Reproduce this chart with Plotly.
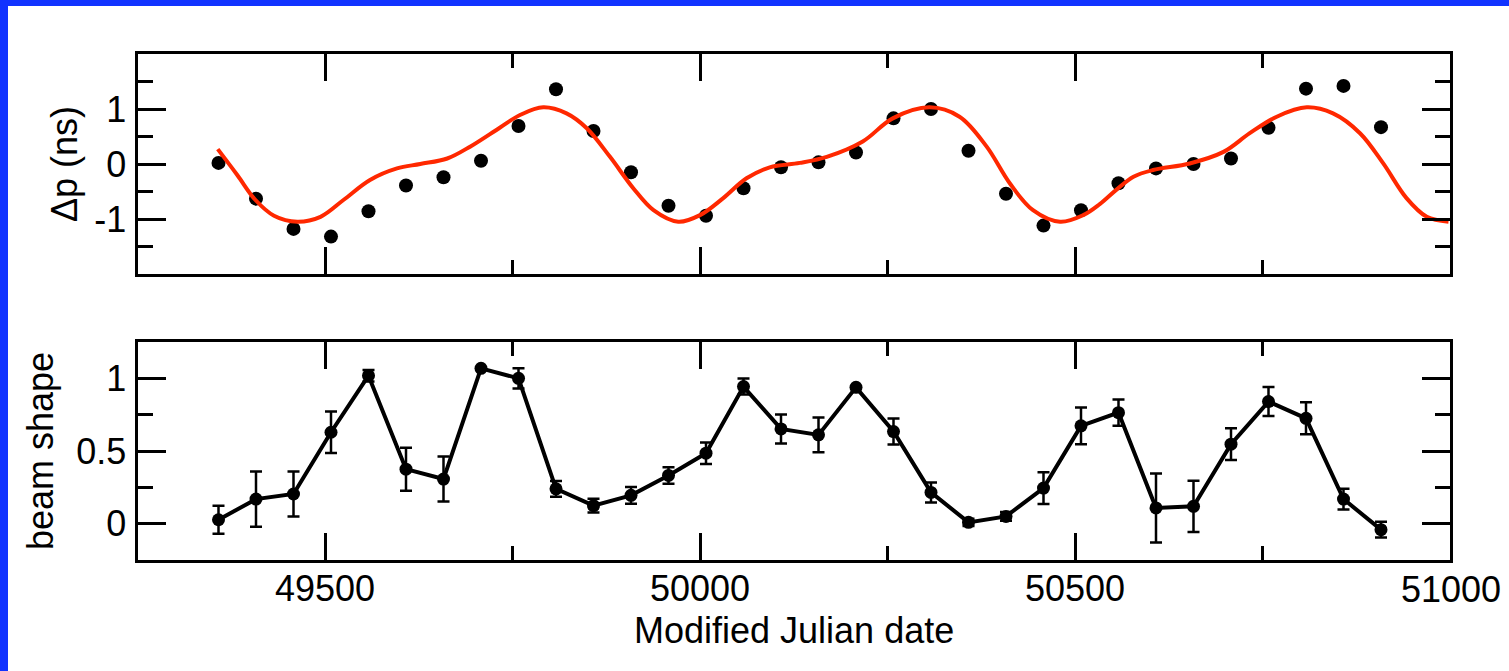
import plotly.graph_objects as go

# ---------------- data ----------------
mjd = [49358, 49408, 49458, 49508, 49558, 49608, 49658, 49708, 49758, 49808,
       49858, 49908, 49958, 50008, 50058, 50108, 50158, 50208, 50258, 50308,
       50358, 50408, 50458, 50508, 50558, 50608, 50658, 50708, 50758, 50808,
       50858, 50908]

delta_p = [0.02, -0.63, -1.18, -1.32, -0.86, -0.39, -0.24, 0.06, 0.69, 1.36,
           0.60, -0.15, -0.76, -0.94, -0.44, -0.06, 0.03, 0.21, 0.83, 1.00,
           0.24, -0.54, -1.12, -0.84, -0.35, -0.08, 0.00, 0.10, 0.66, 1.37,
           1.42, 0.67]

model_mjd = [49357, 49383, 49407, 49432, 49463, 49494, 49525, 49560, 49596, 49627,
             49663, 49694, 49733, 49760, 49791, 49822, 49849, 49880, 49911, 49938,
             49971, 50000, 50031, 50062, 50093, 50133, 50169, 50217, 50257, 50306,
             50346, 50382, 50413, 50444, 50480, 50511, 50533, 50555, 50578, 50604,
             50653, 50698, 50733, 50769, 50809, 50844, 50880, 50911, 50942, 50969,
             50998]
model_dp = [0.27, -0.20, -0.65, -0.94, -1.05, -0.96, -0.65, -0.29, -0.08, 0.00,
            0.10, 0.32, 0.66, 0.89, 1.03, 0.92, 0.65, 0.13, -0.44, -0.84,
            -1.05, -0.93, -0.62, -0.26, -0.06, 0.02, 0.13, 0.41, 0.83, 1.03,
            0.86, 0.32, -0.35, -0.84, -1.05, -0.93, -0.73, -0.47, -0.23, -0.11,
            0.01, 0.22, 0.56, 0.86, 1.03, 0.92, 0.56, 0.01, -0.62, -0.96,
            -1.05]

beam = [0.027, 0.169, 0.204, 0.629, 1.018, 0.375, 0.307, 1.069, 1.000, 0.240,
        0.124, 0.195, 0.332, 0.485, 0.943, 0.652, 0.611, 0.938, 0.634, 0.215,
        0.009, 0.050, 0.245, 0.673, 0.764, 0.108, 0.119, 0.547, 0.840, 0.725,
        0.169, -0.041]
beam_err = [0.096, 0.19, 0.155, 0.143, 0.04, 0.148, 0.155, 0.0, 0.07, 0.054,
            0.047, 0.058, 0.057, 0.074, 0.055, 0.10, 0.12, 0.0, 0.09, 0.069,
            0.025, 0.03, 0.109, 0.127, 0.09, 0.238, 0.177, 0.109, 0.10, 0.11,
            0.072, 0.055]

x_ticks = [49500, 50000, 50500]
x_ticktext = ["49500", "50000", "50500"]
x_last_label = "51000"
x_tick_all = [49500, 50000, 50500, 51000]
x_minor = [49750, 50250, 50750]
top_ticks = [-1, 0, 1]
top_ticktext = ["-1", "0", "1"]
top_minor = [-1.5, -0.5, 0.5, 1.5]
bot_ticks = [0, 0.5, 1]
bot_ticktext = ["0", "0.5", "1"]
bot_minor = [0.25, 0.75]

# ---------------- figure ----------------
W, H = 1509, 671
FONT = "Liberation Sans, Arial, Helvetica, sans-serif"
FS = 36

fig = go.Figure()

fig.add_trace(go.Scatter(x=mjd, y=delta_p, mode="markers",
                         marker=dict(color="black", size=14),
                         xaxis="x", yaxis="y", showlegend=False))
fig.add_trace(go.Scatter(x=model_mjd, y=model_dp, mode="lines",
                         line=dict(color="rgb(255,40,0)", width=4, shape="spline", smoothing=1.0),
                         xaxis="x", yaxis="y", showlegend=False))
fig.add_trace(go.Scatter(x=mjd, y=beam, mode="lines+markers",
                         line=dict(color="black", width=4),
                         marker=dict(color="black", size=13),
                         error_y=dict(type="data", array=beam_err, visible=True,
                                      color="black", thickness=2.5, width=6),
                         xaxis="x2", yaxis="y2", showlegend=False))

xd = [137.5 / W, 1450 / W]
top_dom = [1 - 274 / H, 1 - 54 / H]
bot_dom = [1 - 560 / H, 1 - 342 / H]

common_x = dict(range=[49250, 51000], domain=xd, showline=True, linecolor="black",
                linewidth=3, mirror="allticks", ticks="inside", ticklen=27,
                tickwidth=3, tickcolor="black",
                minor=dict(tickvals=x_minor, ticks="inside", ticklen=14, tickwidth=3,
                           tickcolor="black", showgrid=False),
                showgrid=False, zeroline=False,
                tickfont=dict(family=FONT, size=FS, color="black"))

fig.update_layout(
    width=W, height=H, autosize=False,
    margin=dict(l=0, r=0, t=0, b=0),
    paper_bgcolor="white", plot_bgcolor="white",
    xaxis=dict(**common_x, anchor="y", showticklabels=False, tickvals=x_tick_all),
    xaxis2=dict(**common_x, anchor="y2", showticklabels=True, tickvals=x_ticks,
                ticktext=x_ticktext, ticklabelstandoff=-5),
    yaxis=dict(range=[-2, 2], domain=top_dom, anchor="x", showline=True, linecolor="black",
               linewidth=3, mirror="allticks", ticks="inside", ticklen=28, tickwidth=3,
               tickcolor="black", tickvals=top_ticks, ticktext=top_ticktext,
               minor=dict(tickvals=top_minor, ticks="inside", ticklen=15, tickwidth=3,
                          tickcolor="black", showgrid=False),
               showgrid=False, zeroline=False, ticklabelstandoff=1,
               tickfont=dict(family=FONT, size=FS, color="black")),
    yaxis2=dict(range=[-0.25, 1.25], domain=bot_dom, anchor="x2", showline=True,
                linecolor="black", linewidth=3, mirror="allticks", ticks="inside",
                ticklen=28, tickwidth=3, tickcolor="black", tickvals=bot_ticks,
                ticktext=bot_ticktext,
                minor=dict(tickvals=bot_minor, ticks="inside", ticklen=15, tickwidth=3,
                           tickcolor="black", showgrid=False),
                showgrid=False, zeroline=False, ticklabelstandoff=1,
                tickfont=dict(family=FONT, size=FS, color="black")),
    shapes=[
        dict(type="rect", xref="paper", yref="paper", x0=0, x1=8 / W, y0=0, y1=1,
             fillcolor="#1133ff", line=dict(width=0), layer="above"),
        dict(type="rect", xref="paper", yref="paper", x0=0, x1=1, y0=1 - 6 / H, y1=1,
             fillcolor="#1133ff", line=dict(width=0), layer="above"),
    ],
    annotations=[
        dict(text="Δp (ns)", x=65 / W, y=1 - 164 / H, xref="paper", yref="paper",
             textangle=-90, showarrow=False, xanchor="center", yanchor="middle",
             font=dict(family=FONT, size=FS, color="black")),
        dict(text="beam shape", x=40 / W, y=1 - 451 / H, xref="paper", yref="paper",
             textangle=-90, showarrow=False, xanchor="center", yanchor="middle",
             font=dict(family=FONT, size=FS, color="black")),
        dict(text="Modified Julian date", x=794 / W, y=1 - 630 / H, xref="paper",
             yref="paper", showarrow=False, xanchor="center", yanchor="middle",
             font=dict(family=FONT, size=FS, color="black")),
        dict(text=x_last_label, x=1503 / W, y=1 - 589 / H, xref="paper", yref="paper",
             showarrow=False, xanchor="right", yanchor="middle",
             font=dict(family=FONT, size=FS, color="black")),
    ],
    hovermode=False,
)

fig.write_html("out.html")
